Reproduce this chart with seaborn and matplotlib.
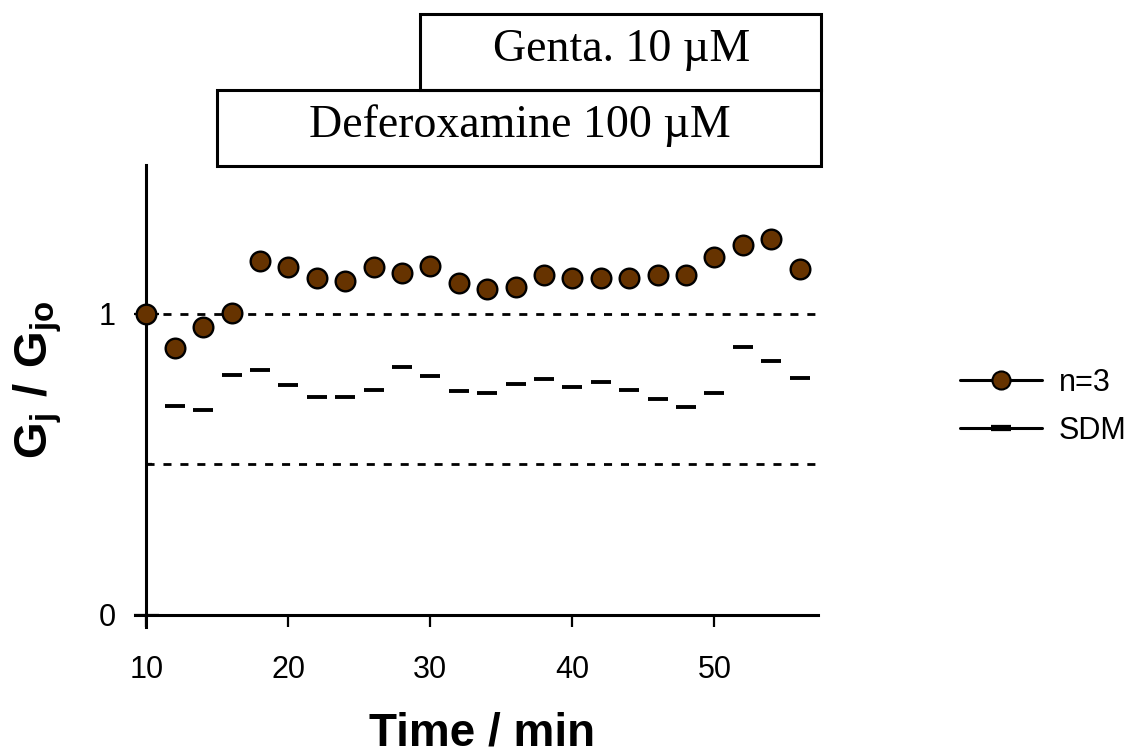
import numpy as np
import pandas as pd
import matplotlib
matplotlib.use("Agg")
import matplotlib.pyplot as plt
import seaborn as sns
from matplotlib.lines import Line2D
from matplotlib.patches import Rectangle
from matplotlib.transforms import blended_transform_factory

# ---- data ----
time_min = [10, 12, 14, 16, 18, 20, 22, 24, 26, 28, 30, 32, 34, 36, 38, 40, 42, 44, 46, 48, 50, 52, 54, 56]
mean_ratio = [1.00, 0.887, 0.957, 1.003, 1.176, 1.156, 1.12, 1.11, 1.156, 1.136, 1.16, 1.103,
              1.083, 1.09, 1.13, 1.12, 1.12, 1.12, 1.13, 1.13, 1.19, 1.23, 1.25, 1.15]
sdm_time = [12, 14, 16, 18, 20, 22, 24, 26, 28, 30, 32, 34, 36, 38, 40, 42, 44, 46, 48, 50, 52, 54, 56]
sdm_ratio = [0.695, 0.68, 0.797, 0.813, 0.764, 0.724, 0.724, 0.748, 0.824, 0.794, 0.744,
             0.738, 0.767, 0.783, 0.758, 0.774, 0.748, 0.718, 0.69, 0.738, 0.89, 0.844, 0.787]
ref_lines = [1.0, 0.5]
x_ticks = [10, 20, 30, 40, 50]
y_ticks = [0, 1]
series_labels = ["n=3", "SDM"]
treatments = [("Genta. 10 \u00b5M", 29.3), ("Deferoxamine 100 \u00b5M", 15.0)]

brown = "#663300"

sns.set_theme(style="white")
plt.rcParams['font.family'] = ['Liberation Sans', 'DejaVu Sans']
plt.rcParams['mathtext.fontset'] = 'custom'
plt.rcParams['mathtext.rm'] = 'Liberation Sans'
plt.rcParams['mathtext.bf'] = 'Liberation Sans:bold'
for k in ['text.color', 'axes.labelcolor', 'xtick.color', 'ytick.color', 'axes.edgecolor']:
    plt.rcParams[k] = 'black'

W, H = 1129, 755
fig = plt.figure(figsize=(W / 100, H / 100), dpi=100)
ax = fig.add_axes([135 / W, (H - 627) / H, (818 - 135) / W, (627 - 165) / H])

df_mean = pd.DataFrame({"t": time_min, "r": mean_ratio})
df_sdm = pd.DataFrame({"t": sdm_time, "r": sdm_ratio})

for yv in ref_lines:
    ax.axhline(yv, xmin=(10 - 9.2) / (57.3 - 9.2), xmax=1, color="black", lw=2,
               dashes=(2.9, 3.2), zorder=1)

sns.lineplot(data=df_sdm, x="t", y="r", ax=ax, estimator=None, linestyle="",
             marker="_", markersize=15, markeredgewidth=2.8, markeredgecolor="black",
             color="black", zorder=3)
sns.scatterplot(data=df_mean, x="t", y="r", ax=ax, s=200, color=brown,
                edgecolor="black", linewidth=1.7, zorder=4, clip_on=False)

ax.set_xlim(9.2, 57.3)
ax.set_ylim(-0.04, 1.495)
ax.spines['left'].set_position(('data', 10))
ax.spines['bottom'].set_position(('data', 0))
for s in ['top', 'right']:
    ax.spines[s].set_visible(False)
for s in ['left', 'bottom']:
    ax.spines[s].set_linewidth(2.2)
    ax.spines[s].set_color("black")

ax.set_xticks(x_ticks)
ax.set_yticks(y_ticks)
ax.set_yticks([0.5], minor=True)
ax.tick_params(axis='x', which='major', direction='out', length=8.6, width=1.6,
               labelsize=22, pad=20, colors='black', bottom=True)
ax.tick_params(axis='y', which='major', direction='inout', length=18, width=1.6,
               labelsize=22, pad=13, colors='black', left=True)
ax.tick_params(axis='y', which='minor', direction='in', length=4.5, width=1.6, left=True)

ax.set_xlabel("")
ax.set_ylabel("")
fig.text(482 / W, 1 - 746 / H, "Time / min", fontsize=33, fontweight='bold',
         ha='center', va='baseline')
fig.text(38 / W, 1 - 380 / H, r"$\mathbf{G_j\ /\ G_{jo}}$", fontsize=34,
         rotation=90, ha='center', va='center')

# treatment boxes
tr = blended_transform_factory(ax.transData, fig.transFigure)
box_rows = [(14, 90), (90, 166)]
for (label, start), (ytop, ybot) in zip(treatments, box_rows):
    end = 57.5
    rect = Rectangle((start, 1 - ybot / H), end - start, (ybot - ytop) / H,
                     transform=tr, fill=False, edgecolor='black', lw=2.2, clip_on=False)
    fig.add_artist(rect)
fig.text(622 / W, 1 - 50 / H, treatments[0][0], family='Liberation Serif', fontsize=33,
         ha='center', va='center')
fig.text(520 / W, 1 - 126 / H, treatments[1][0], family='Liberation Serif', fontsize=33,
         ha='center', va='center')

handles = [
    Line2D([0], [0], color='black', lw=2.2, marker='o', markersize=13,
           markerfacecolor=brown, markeredgecolor='black', markeredgewidth=1.5),
    Line2D([0], [0], color='black', lw=2.2, marker='_', markersize=15,
           markeredgewidth=4.5, markeredgecolor='black'),
]
fig.legend(handles, series_labels, loc='center left', bbox_to_anchor=(960 / W, 1 - 407 / H),
           frameon=False, fontsize=22, handlelength=2.68, handletextpad=0.55,
           labelspacing=0.6, borderpad=0, borderaxespad=0, numpoints=1)

fig.savefig("out.png", dpi=100)
